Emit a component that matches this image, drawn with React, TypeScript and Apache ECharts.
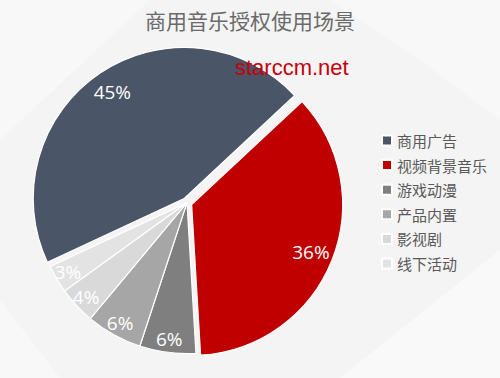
import React, { useEffect, useRef } from "react";
import * as echarts from "echarts";

// Share of licensed commercial music by usage scenario (%)
const categories = ["商用广告", "视频背景音乐", "游戏动漫", "产品内置", "影视剧", "线下活动"];
const shares = [45, 36, 6, 6, 4, 3];
const sliceColors = ["#4a5567", "#c00000", "#7f7f7f", "#a6a6a6", "#d9d9d9", "#e3e3e3"];
const explodedSlices = ["商用广告", "视频背景音乐"];

const titleText = "商用音乐授权使用场景";
const siteMark = "starccm.net";

const CJK = '"Noto Sans CJK SC", "Noto Sans", sans-serif';
// wide slices keep their percentage a little deeper inside than the narrow ones
const WIDE_SLICE = 10;

export default function App() {
  const ref = useRef<HTMLDivElement>(null);

  useEffect(() => {
    if (!ref.current) return;
    const chart = echarts.init(ref.current, undefined, { renderer: "svg" });

    const pieData = categories.map((name, i) => ({
      name,
      value: shares[i],
      selected: explodedSlices.includes(name),
      itemStyle: { color: sliceColors[i] },
    }));

    const labelData = (wide: boolean) =>
      categories.map((name, i) => ({
        name,
        value: shares[i],
        selected: explodedSlices.includes(name),
        label: { show: (shares[i] >= WIDE_SLICE) === wide },
      }));

    const common = {
      type: "pie" as const,
      center: ["37.4%", "53.6%"],
      startAngle: 205,
      clockwise: true,
      selectedMode: "multiple" as const,
      selectedOffset: 5,
      avoidLabelOverlap: false,
      emphasis: { disabled: true },
    };

    const labelSeries = (name: string, inner: number, wide: boolean) => ({
      ...common,
      name,
      radius: [inner, 151],
      silent: true,
      z: 3,
      itemStyle: { color: "rgba(0,0,0,0)", borderWidth: 0 },
      label: {
        position: "inside",
        formatter: "{c}%",
        color: "#ffffff",
        fontSize: 19,
        fontFamily: '"Open Sans", "Noto Sans", sans-serif',
      },
      labelLine: { show: false },
      data: labelData(wide),
    });

    chart.setOption({
      animation: false,
      backgroundColor: "#f4f4f4",
      title: {
        text: titleText,
        left: "center",
        top: 4,
        textStyle: { fontSize: 21, fontWeight: "normal", color: "#6a6a6a", fontFamily: CJK },
      },
      legend: {
        data: categories,
        orient: "vertical",
        left: 376,
        top: 128,
        icon: "rect",
        itemWidth: 10,
        itemHeight: 10,
        itemGap: 9.6,
        selectedMode: false,
        textStyle: { fontSize: 15, color: "#595959", fontFamily: CJK },
      },
      graphic: [
        {
          type: "polygon",
          silent: true,
          z: -10,
          shape: { points: [[0, 0], [150, 0], [0, 140]] },
          style: { fill: "rgba(255,255,255,0.35)" },
        },
        {
          type: "polygon",
          silent: true,
          z: -10,
          shape: { points: [[330, 0], [500, 0], [500, 120], [420, 60]] },
          style: { fill: "rgba(255,255,255,0.4)" },
        },
        {
          type: "polygon",
          silent: true,
          z: -10,
          shape: { points: [[340, 378], [500, 250], [500, 378]] },
          style: { fill: "rgba(255,255,255,0.45)" },
        },
        {
          type: "polygon",
          silent: true,
          z: -10,
          shape: { points: [[0, 300], [60, 378], [0, 378]] },
          style: { fill: "rgba(255,255,255,0.4)" },
        },
        {
          type: "text",
          left: 235,
          top: 56,
          z: 100,
          style: {
            text: siteMark,
            font: '22px "Liberation Sans", Arial, sans-serif',
            fill: "#c8000a",
          },
        },
      ],
      series: [
        {
          ...common,
          name: "使用场景",
          radius: [0, 151],
          label: { show: false },
          labelLine: { show: false },
          itemStyle: { borderColor: "#ffffff", borderWidth: 1.2 },
          data: pieData,
        },
        labelSeries("占比标签", 100, true),
        labelSeries("小项标签", 119, false),
      ],
    });

    return () => chart.dispose();
  }, []);

  return (
    <div
      ref={ref}
      style={{ position: "fixed", left: 0, top: 0, width: 500, height: 378 }}
    />
  );
}
